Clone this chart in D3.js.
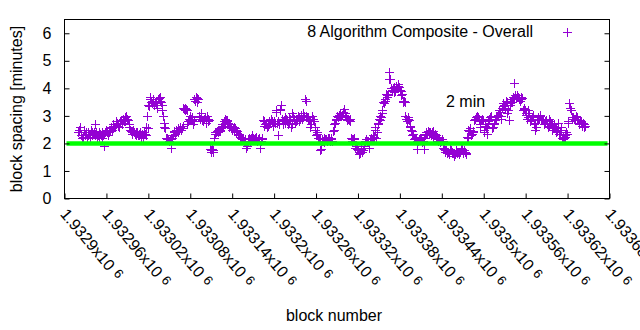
<!DOCTYPE html>
<html><head><meta charset="utf-8">
<script src="https://cdn.jsdelivr.net/npm/d3@7"></script>
<style>body{margin:0;background:#fff} text{font-family:"Liberation Sans",Arial,sans-serif;fill:#000}</style>
</head><body><svg id="c" width="640" height="330"></svg>
<script>
// ---- data ----
const firstBlock = 1932920;
const blockStep = 1;
const spacingMinutes = [
  2.4,2.5,2.6,2.3,2.3,2.2,2.25,2.2,2.5,2.35,2.3,2.4,2.2,2.3,2.4,2.35,2.3,2.25,2.5,2.4,
  2.3,2.35,2.4,2.3,2.7,2.4,2.2,2.3,2.3,2.25,2.4,2.35,2.3,2.4,2.2,2.3,1.9,2.35,2.4,2.45,
  2.5,2.4,2.3,2.45,2.4,2.5,2.6,2.55,2.5,2.65,2.7,2.6,2.6,2.7,2.8,2.75,2.7,2.65,2.6,2.75,
  2.8,2.85,2.7,2.75,2.9,2.8,2.8,2.95,3.0,2.9,2.9,2.85,2.6,2.7,2.5,2.45,2.4,2.35,2.5,2.4,
  2.4,2.35,2.3,2.4,2.4,2.3,2.3,2.35,2.4,2.25,2.3,2.35,2.2,2.3,2.4,2.35,2.6,2.3,3.0,2.55,
  3.4,3.35,3.7,3.6,3.5,3.45,3.6,3.55,3.4,3.5,3.5,3.45,3.3,3.4,3.6,3.65,3.7,3.55,3.5,3.4,
  3.2,3.0,2.75,2.6,2.55,2.2,2.2,2.15,2.15,2.1,2.1,2.15,1.85,2.15,2.2,2.3,2.4,2.45,2.35,2.4,
  2.5,2.45,2.4,2.55,2.5,2.6,2.6,2.5,2.55,2.65,3.3,3.25,3.2,3.3,3.25,3.2,2.7,2.8,2.9,2.85,
  3.0,2.9,2.85,2.95,2.7,2.8,3.6,3.55,3.7,3.65,3.5,3.6,3.0,2.95,2.9,3.0,3.1,2.85,2.8,2.9,
  2.9,2.95,2.75,2.8,3.0,2.9,2.8,2.85,1.8,1.75,1.7,1.8,1.75,1.7,2.2,2.4,2.35,2.4,2.45,2.5,
  2.4,2.45,2.5,2.45,2.55,2.6,2.7,2.65,2.8,2.75,2.9,2.85,2.85,2.8,2.75,2.7,2.6,2.65,2.55,2.6,
  2.5,2.55,2.6,2.5,2.55,2.5,2.4,2.45,2.3,2.35,2.35,2.25,2.25,2.2,2.15,2.2,2.2,2.1,2.1,2.15,
  1.85,1.9,2.15,2.1,2.2,2.15,2.1,2.2,2.3,2.2,2.2,2.15,2.15,2.2,2.25,2.1,2.1,2.15,2.2,2.15,
  1.85,2.1,2.2,2.15,2.85,2.8,2.65,2.7,2.7,2.75,2.6,2.65,2.8,2.7,2.75,2.85,2.9,2.8,2.65,2.7,
  2.8,2.75,3.2,3.15,2.75,2.8,2.3,2.7,3.2,3.25,3.4,2.9,2.7,2.8,2.85,2.75,2.95,2.9,2.8,2.85,
  2.7,2.75,2.95,2.9,2.6,2.7,3.1,3.0,2.85,2.9,2.75,2.8,2.9,2.85,3.0,2.95,2.8,2.9,3.05,3.0,
  2.9,2.95,3.1,3.0,3.6,3.55,3.0,2.95,2.95,2.9,2.85,2.8,2.6,2.7,3.0,2.9,2.9,2.8,2.5,2.6,
  2.3,2.35,2.4,2.2,2.2,2.15,1.75,1.8,2.15,2.1,2.1,2.05,2.2,2.15,2.15,2.1,2.1,2.2,2.2,2.15,
  2.1,2.15,2.2,2.1,2.45,2.5,2.7,2.75,2.9,2.85,3.0,2.95,2.95,3.05,3.1,3.0,3.0,3.05,3.15,3.1,
  3.25,3.1,3.0,2.95,2.85,2.9,2.9,2.85,2.8,2.9,2.2,2.15,2.1,2.15,2.15,2.2,1.85,1.9,1.9,1.8,
  1.75,1.7,1.6,1.65,1.8,1.75,1.7,1.75,1.9,1.85,2.1,2.15,2.15,2.1,2.05,2.1,1.85,2.15,2.2,2.15,
  2.15,2.2,2.3,2.25,2.6,2.5,2.2,2.4,2.75,2.7,2.9,2.85,3.0,2.95,3.2,3.1,3.5,3.45,3.6,3.55,
  3.8,3.75,3.7,3.8,4.6,4.35,4.35,4.0,3.9,3.95,4.0,4.05,3.85,3.9,4.1,4.05,4.0,4.1,4.15,4.05,
  3.95,3.9,3.75,3.8,3.5,3.55,3.55,3.5,3.0,2.9,2.8,2.95,2.9,2.85,2.65,2.6,2.5,2.45,2.3,2.35,
  2.15,2.2,2.2,2.15,1.8,2.1,2.1,2.15,2.15,2.2,2.2,2.1,2.05,2.1,1.8,2.2,2.3,2.35,2.4,2.35,
  2.45,2.4,2.35,2.4,2.3,2.35,2.4,2.45,2.25,2.3,2.35,2.3,2.2,2.25,2.1,2.15,2.15,2.1,2.05,2.1,
  2.15,2.1,1.85,1.8,1.7,1.75,1.75,1.7,1.65,1.7,1.6,1.65,1.8,1.75,1.7,1.65,1.65,1.6,1.55,1.6,
  1.75,1.7,1.65,1.7,1.6,1.65,1.7,1.75,1.85,1.8,1.65,1.7,1.75,1.7,1.6,1.65,2.25,2.2,2.5,2.45,
  2.55,2.5,2.3,2.35,2.4,2.45,2.85,2.9,2.9,2.95,3.0,2.95,2.95,2.9,2.6,2.7,2.85,2.9,2.9,2.85,
  2.4,2.5,2.65,2.6,2.35,2.6,2.8,2.85,2.9,2.95,3.0,2.95,2.55,2.6,2.7,2.75,2.85,2.9,2.95,3.0,
  3.0,3.05,3.2,3.15,2.9,3.0,3.3,3.35,3.45,3.4,3.3,3.25,3.55,3.5,3.1,3.2,2.85,3.4,3.45,3.5,
  3.5,3.6,3.7,3.65,4.2,3.75,3.65,3.7,3.75,3.7,3.6,3.65,3.55,3.6,3.7,3.65,3.2,3.25,3.3,3.2,
  3.1,3.05,2.9,2.95,3.2,3.1,2.8,2.85,2.9,2.95,3.0,3.05,2.7,2.75,2.5,2.6,2.85,2.9,2.95,2.9,
  3.05,3.0,2.85,2.9,2.9,2.85,2.7,2.75,2.8,2.85,2.75,2.7,2.6,2.65,2.9,2.8,2.7,2.75,2.5,2.55,
  2.65,2.7,2.55,2.6,2.4,2.45,2.75,2.6,2.35,2.4,2.6,2.5,2.2,2.25,2.15,2.2,2.25,2.3,2.4,2.35,
  2.75,2.8,3.45,3.3,3.3,3.2,2.9,2.95,2.95,2.9,2.85,2.9,3.0,2.95,2.9,2.85,2.7,2.75,2.85,2.8,
  2.65,2.7,2.75,2.7,2.6,2.65
];
const xTickValues = [1932900,1932960,1933020,1933080,1933140,1933200,1933260,1933320,1933380,1933440,1933500,1933560,1933620,1933680];
const xTickMantissas = ["1.9329","1.93296","1.93302","1.93308","1.93314","1.9332","1.93326","1.93332","1.93338","1.93344","1.9335","1.93356","1.93362","1.93368"];
const xTickExponent = "6";
const yTickValues = [0,1,2,3,4,5,6];
const referenceMinutes = 2;
const referenceLabel = "2 min";
const seriesLabel = "8 Algorithm Composite - Overall";
const xAxisTitle = "block number";
const yAxisTitle = "block spacing [minutes]";

// ---- drawing ----
const svg = d3.select("#c");
const L = 64.5, R = 609.5, T = 19.5, B = 198.5;
const FS = 16;
const x = d3.scaleLinear().domain([xTickValues[0], xTickValues[xTickValues.length-1]]).range([L, R]);
const y = d3.scaleLinear().domain([0, 6.5]).range([B, T]);
const purple = "#9400d3";

const points = spacingMinutes.map((v, i) => ({b: firstBlock + i * blockStep, v}));
const plus = "M-4.5,0H4.5M0,-4.5V4.5";

// data markers
svg.append("g").selectAll("path").data(points).join("path")
  .attr("d", plus)
  .attr("transform", d => `translate(${Math.round(x(d.b)) + 0.5},${Math.round(y(d.v)) + 0.5})`)
  .attr("fill", "none").attr("stroke", purple).attr("stroke-width", 1);

// reference line
svg.append("line")
  .attr("x1", x(xTickValues[0]) + 2).attr("x2", x(xTickValues[xTickValues.length-1]) - 2)
  .attr("y1", y(referenceMinutes)).attr("y2", y(referenceMinutes))
  .attr("stroke", "#00ff00").attr("stroke-width", 4.5);

// frame
svg.append("rect").attr("x", L).attr("y", T).attr("width", R - L).attr("height", B - T)
  .attr("fill", "none").attr("stroke", "#000").attr("stroke-width", 1);

// y axis (inward ticks, mirrored)
const yAxis = d3.axisLeft(y).tickValues(yTickValues).tickSize(-5).tickPadding(13).tickFormat(d3.format("d"));
const gy = svg.append("g").attr("transform", `translate(${L},0)`).call(yAxis);
gy.select(".domain").remove();
gy.selectAll("text").attr("font-size", FS).attr("font-family", "Liberation Sans, Arial, sans-serif").attr("fill", "#000");
const gyr = svg.append("g").attr("transform", `translate(${R},0)`).call(d3.axisRight(y).tickValues(yTickValues).tickSize(-5).tickFormat(""));
gyr.select(".domain").remove();

// x axis
const xAxis = d3.axisBottom(x).tickValues(xTickValues).tickSize(-5).tickFormat("");
const gx = svg.append("g").attr("transform", `translate(0,${B})`).call(xAxis);
gx.select(".domain").remove();
const lab = svg.append("g").selectAll("text").data(xTickValues).join("text")
  .attr("transform", d => `translate(${x(d) - 5},${B + 16}) rotate(50)`)
  .attr("font-size", FS);
lab.append("tspan").text((d, i) => xTickMantissas[i] + "x10");
lab.append("tspan").attr("dx", 5).attr("dy", -3).attr("font-size", 13).text(xTickExponent);

// axis titles
svg.append("text").attr("x", 334).attr("y", 321).attr("text-anchor", "middle").attr("font-size", FS).text(xAxisTitle);
svg.append("text").attr("transform", "translate(22,109) rotate(-90)").attr("text-anchor", "middle").attr("font-size", FS).text(yAxisTitle);

// legend
svg.append("text").attr("x", 533).attr("y", 37).attr("text-anchor", "end").attr("font-size", FS).text(seriesLabel);
svg.append("path").attr("d", plus).attr("transform", "translate(567.5,32.5)").attr("fill", "none").attr("stroke", purple);

// reference label
svg.append("text").attr("x", 446).attr("y", 107).attr("font-size", FS).text(referenceLabel);
</script></body></html>
